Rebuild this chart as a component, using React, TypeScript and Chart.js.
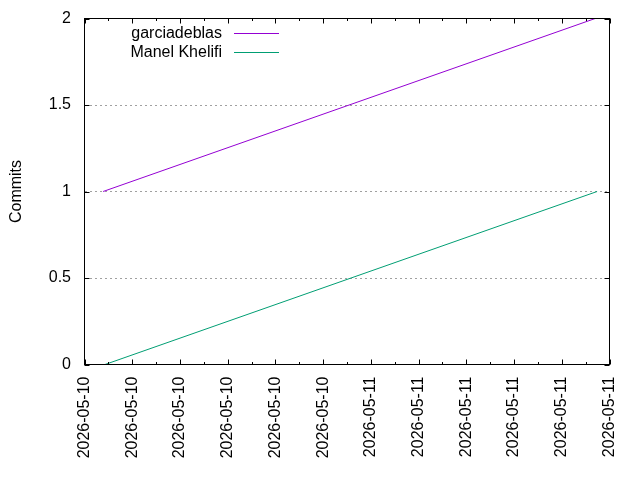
import {useEffect, useRef} from 'react'
import {Chart, registerables} from 'chart.js'
import type {Plugin, Scale} from 'chart.js'

Chart.register(...registerables)

const authors = ['garciadeblas', 'Manel Khelifi']
const authorColors = ['#9400d3', '#009e73']
const garciadeblasX = [0.39, 10.7]
const garciadeblasY = [1, 2]
const manelX = [0.43, 10.74]
const manelY = [0, 1]
const xTickLabels = [
    '2026-05-10', '2026-05-10', '2026-05-10', '2026-05-10', '2026-05-10', '2026-05-10',
    '2026-05-11', '2026-05-11', '2026-05-11', '2026-05-11', '2026-05-11', '2026-05-11',
]
const yTicks = [0, 0.5, 1, 1.5, 2]

const fontFamily = '"Liberation Sans", Arial, sans-serif'

// drop the label-overflow padding so layout.padding alone places the plot box
function clearScalePadding(scale: Scale) {
    scale.paddingTop = 0
    scale.paddingBottom = 0
    scale.paddingLeft = 0
    scale.paddingRight = 0
}

// gnuplot-ish frame: box border, inward ticks on all four sides, key with text left of sample
const gnuplotFrame: Plugin<'line'> = {
    id: 'gnuplotFrame',
    afterDraw(chart) {
        const {ctx, chartArea: area} = chart
        const xs = chart.scales.x
        const ys = chart.scales.y
        ctx.save()
        ctx.strokeStyle = '#000'
        ctx.lineWidth = 1
        ctx.setLineDash([])
        ctx.strokeRect(area.left, area.top, area.right - area.left, area.bottom - area.top)

        ctx.beginPath()
        for (let i = 0; i < xTickLabels.length; i++) {
            const px = Math.round(xs.getPixelForValue(i)) + 0.5
            ctx.moveTo(px, area.bottom)
            ctx.lineTo(px, area.bottom - 5)
            ctx.moveTo(px, area.top)
            ctx.lineTo(px, area.top + 5)
            if (i < xTickLabels.length - 1) {
                const mx = Math.round(xs.getPixelForValue(i + 0.5)) + 0.5
                ctx.moveTo(mx, area.bottom)
                ctx.lineTo(mx, area.bottom - 2.5)
                ctx.moveTo(mx, area.top)
                ctx.lineTo(mx, area.top + 2.5)
            }
        }
        yTicks.forEach((v) => {
            const py = Math.round(ys.getPixelForValue(v)) + 0.5
            ctx.moveTo(area.left, py)
            ctx.lineTo(area.left + 5, py)
            ctx.moveTo(area.right, py)
            ctx.lineTo(area.right - 5, py)
        })
        ctx.stroke()

        ctx.font = `16px ${fontFamily}`
        ctx.textAlign = 'right'
        ctx.textBaseline = 'middle'
        chart.data.datasets.forEach((ds, i) => {
            const y = 32.5 + i * 19.5
            ctx.fillStyle = '#000'
            ctx.fillText(String(ds.label), 222, y + 1)
            ctx.strokeStyle = String(ds.borderColor)
            ctx.beginPath()
            ctx.moveTo(234, Math.round(y) + 0.5)
            ctx.lineTo(279, Math.round(y) + 0.5)
            ctx.stroke()
        })
        ctx.restore()
    },
}

function CommitsChart() {
    const canvasRef = useRef<HTMLCanvasElement>(null)

    useEffect(() => {
        if (!canvasRef.current) return
        document.body.style.margin = '0'

        const chart = new Chart(canvasRef.current, {
            type: 'line',
            data: {
                datasets: [
                    {
                        label: authors[0],
                        data: garciadeblasX.map((x, i) => ({x, y: garciadeblasY[i]})),
                        borderColor: authorColors[0],
                        borderWidth: 1,
                        pointRadius: 0,
                    },
                    {
                        label: authors[1],
                        data: manelX.map((x, i) => ({x, y: manelY[i]})),
                        borderColor: authorColors[1],
                        borderWidth: 1,
                        pointRadius: 0,
                    },
                ],
            },
            options: {
                animation: false,
                responsive: true,
                maintainAspectRatio: false,
                layout: {padding: {top: 18.5, right: 30.5, left: 0, bottom: 0}},
                plugins: {
                    legend: {display: false},
                    tooltip: {enabled: false},
                },
                scales: {
                    x: {
                        type: 'linear',
                        min: 0,
                        max: xTickLabels.length - 1,
                        afterBuildTicks: (scale) => {
                            scale.ticks = xTickLabels.map((_, i) => ({value: i}))
                        },
                        afterFit: (scale) => {
                            scale.height = 480 - 364.5
                            clearScalePadding(scale)
                        },
                        grid: {display: false, drawTicks: false},
                        border: {display: false},
                        ticks: {
                            color: '#000',
                            font: {family: fontFamily, size: 16},
                            minRotation: 90,
                            maxRotation: 90,
                            padding: 12,
                            autoSkip: false,
                            callback: (value) => xTickLabels[Number(value)] ?? '',
                        },
                    },
                    y: {
                        min: 0,
                        max: 2,
                        afterBuildTicks: (scale) => {
                            scale.ticks = yTicks.map((value) => ({value}))
                        },
                        afterFit: (scale) => {
                            scale.width = 84.5
                            clearScalePadding(scale)
                        },
                        grid: {
                            drawTicks: false,
                            color: (c) => (c.tick.value === 0 || c.tick.value === 2 ? 'rgba(0,0,0,0)' : '#a0a0a0'),
                        },
                        border: {display: false, dash: [2, 3]},
                        title: {
                            display: true,
                            text: 'Commits',
                            color: '#000',
                            font: {family: fontFamily, size: 16},
                            padding: {top: 7, bottom: 0},
                        },
                        ticks: {
                            color: '#000',
                            font: {family: fontFamily, size: 16},
                            padding: 13.5,
                            callback: (value) => String(value),
                        },
                    },
                },
            },
            plugins: [gnuplotFrame],
        })

        return () => chart.destroy()
    }, [])

    return (
        <div style={{position: 'relative', width: 640, height: 480}}>
            <canvas ref={canvasRef}/>
        </div>
    )
}

export default function App() {
    return <CommitsChart/>
}
